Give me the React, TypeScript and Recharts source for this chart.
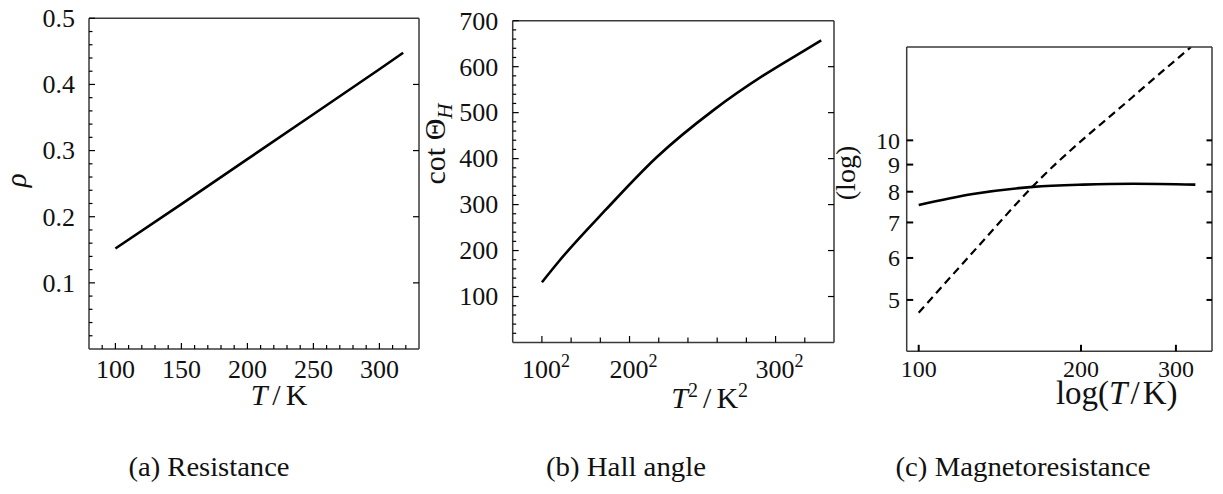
import React from 'react';
import { LineChart, Line, XAxis, YAxis } from 'recharts';

const SERIF = '"Liberation Serif", "Times New Roman", Times, serif';
const INK = '#000';
const FRAME = '#3a3a3a';

// ---- (a) Resistance: rho against T ----
const resTemps = [100, 150, 200, 250, 300, 318];
const resRho = [0.152, 0.219, 0.287, 0.355, 0.423, 0.448];
const resXLabels = [100, 150, 200, 250, 300];
const resYLabels = [0.1, 0.2, 0.3, 0.4, 0.5];

// ---- (b) Hall angle: cot(theta_H) against T^2 ----
const hallTemps = [100, 127, 179, 222, 262, 293, 313, 325];
const hallCot = [131, 179, 290, 403, 505, 581, 628, 657];
const hallXLabelTemps = [100, 200, 300];
const hallYLabels = [100, 200, 300, 400, 500, 600, 700];

// ---- (c) Magnetoresistance, log-log ----
const mrTemps = [100, 126, 163, 202, 250, 326];
const mrSolid = [7.55, 7.92, 8.17, 8.25, 8.28, 8.25];
const mrDashedTemps = [100, 130, 163, 250, 320];
const mrDashed = [4.73, 6.37, 8.2, 12.1, 15.0];
const mrXLabels = [100, 200, 300];
const mrYLabels = [5, 6, 7, 8, 9, 10];

const captions = ['(a) Resistance', '(b) Hall angle', '(c) Magnetoresistance'];

const range = (a: number, b: number, step: number) => {
  const out: number[] = [];
  for (let v = a; v <= b + step * 1e-6; v += step) out.push(+v.toFixed(6));
  return out;
};

const resData = resTemps.map((t, i) => ({ t, rho: resRho[i] }));
const hallData = hallTemps.map((t, i) => ({ t2: t * t, cot: hallCot[i] }));
const mrSolidData = mrTemps.map((t, i) => ({ t, v: mrSolid[i] }));
const mrDashedData = mrDashedTemps.map((t, i) => ({ t, v: mrDashed[i] }));

type Side = 'bottom' | 'top' | 'left' | 'right';
type TickSpec = {
  side: Side;
  labeled?: number[];
  majors?: number[];
  majorLen: number;
  minorLen: number;
  width: number;
  fontSize?: number;
  offset?: number;
  format?: (v: number) => React.ReactNode;
  anchorShift?: number;
};

const near = (list: number[] | undefined, v: number) =>
  !!list && list.some((m) => Math.abs(m - v) < 1e-6 * Math.max(1, Math.abs(m)));

// Inward-pointing tick marks drawn from the axis edge, with optional labels.
function axisTick(spec: TickSpec) {
  return (props: any) => {
    const { x, y, payload } = props;
    const v = Number(payload.value);
    const len = near(spec.majors, v) ? spec.majorLen : spec.minorLen;
    const dir: Record<Side, [number, number]> = {
      bottom: [0, -1],
      top: [0, 1],
      left: [1, 0],
      right: [-1, 0],
    };
    const [dx, dy] = dir[spec.side];
    let label: React.ReactNode = null;
    if (spec.fontSize && near(spec.labeled, v)) {
      const content = spec.format ? spec.format(v) : String(v);
      if (spec.side === 'bottom') {
        label = (
          <text
            x={x + (spec.anchorShift ?? 0)}
            y={y + (spec.offset ?? 0)}
            textAnchor={spec.anchorShift ? 'start' : 'middle'}
            fontFamily={SERIF}
            fontSize={spec.fontSize}
            fill="#111"
          >
            {content}
          </text>
        );
      } else if (spec.side === 'left') {
        label = (
          <text
            x={x - (spec.offset ?? 0)}
            y={y + spec.fontSize * 0.34}
            textAnchor="end"
            fontFamily={SERIF}
            fontSize={spec.fontSize}
            fill="#111"
          >
            {content}
          </text>
        );
      }
    }
    return (
      <g>
        <line x1={x} y1={y} x2={x + dx * len} y2={y + dy * len} stroke={INK} strokeWidth={spec.width} />
        {label}
      </g>
    );
  };
}

const axisBase = {
  type: 'number' as const,
  tickLine: false,
  tickSize: 0,
  tickMargin: 0,
  interval: 0 as const,
  allowDataOverflow: true,
};

const frameLine = { stroke: FRAME, strokeWidth: 1.5 };

const sq = (n: number) => (
  <>
    {n}
    <tspan dy={-11} fontSize={18}>2</tspan>
  </>
);

function ResistancePanel() {
  return (
    <div style={{ position: 'absolute', left: 0, top: 0 }}>
      <LineChart width={440} height={494} data={resData} margin={{ top: 17.3, right: 20, bottom: 105, left: 29 }}>
        <XAxis
          {...axisBase}
          dataKey="t"
          domain={[80, 330]}
          ticks={range(90, 320, 10)}
          height={40}
          axisLine={frameLine}
          tick={axisTick({ side: 'bottom', labeled: resXLabels, majors: resXLabels, majorLen: 6, minorLen: 4, width: 1.2, fontSize: 26, offset: 29 })}
          label={(p: any) => (
            <text x={p.viewBox.x + 190} y={p.viewBox.y + 56} textAnchor="middle" fontFamily={SERIF} fontSize={30} fill="#111">
              <tspan fontStyle="italic">T</tspan>
              <tspan dx={5}>/</tspan>
              <tspan dx={5}>K</tspan>
            </text>
          )}
        />
        <XAxis
          {...axisBase}
          xAxisId="top"
          orientation="top"
          domain={[80, 330]}
          ticks={resXLabels}
          height={1}
          axisLine={frameLine}
          tick={axisTick({ side: 'top', majors: resXLabels, majorLen: 5, minorLen: 3, width: 1.2 })}
        />
        <YAxis
          {...axisBase}
          domain={[0, 0.5]}
          ticks={range(0.02, 0.5, 0.02)}
          width={60}
          axisLine={frameLine}
          tick={axisTick({ side: 'left', labeled: resYLabels, majors: resYLabels, majorLen: 6, minorLen: 3.5, width: 1.2, fontSize: 26, offset: 14 })}
          label={(p: any) => (
            <text
              transform={`translate(${p.viewBox.x - 3}, ${p.viewBox.y + 162}) rotate(-90)`}
              textAnchor="middle"
              fontFamily={SERIF}
              fontStyle="italic"
              fontSize={29}
              fill="#111"
            >
              ρ
            </text>
          )}
        />
        <YAxis
          {...axisBase}
          yAxisId="right"
          orientation="right"
          domain={[0, 0.5]}
          ticks={[0.1, 0.2, 0.3, 0.4]}
          width={1}
          axisLine={frameLine}
          tick={axisTick({ side: 'right', majors: resYLabels, majorLen: 6, minorLen: 3, width: 1.2 })}
        />
        <Line dataKey="rho" type="linear" stroke={INK} strokeWidth={2.6} dot={false} isAnimationActive={false} />
      </LineChart>
    </div>
  );
}

function HallPanel() {
  const xMajors = hallXLabelTemps.map((t) => t * t);
  return (
    <div style={{ position: 'absolute', left: 400, top: 0 }}>
      <LineChart width={460} height={494} data={hallData} margin={{ top: 19.7, right: 25, bottom: 111.5, left: 52.7 }}>
        <XAxis
          {...axisBase}
          dataKey="t2"
          domain={[0, 110000]}
          ticks={range(10000, 100000, 10000)}
          height={40}
          axisLine={frameLine}
          tick={axisTick({
            side: 'bottom',
            labeled: xMajors,
            majors: xMajors,
            majorLen: 6.5,
            minorLen: 5,
            width: 1.2,
            fontSize: 26,
            offset: 35.5,
            anchorShift: -20,
            format: (v) => sq(Math.round(Math.sqrt(v))),
          })}
          label={(p: any) => (
            <text x={p.viewBox.x + 197} y={p.viewBox.y + 65} textAnchor="middle" fontFamily={SERIF} fontSize={30} fill="#111">
              <tspan fontStyle="italic">T</tspan>
              <tspan dy={-11} fontSize={20}>2</tspan>
              <tspan dy={11} dx={5}>/</tspan>
              <tspan dx={5}>K</tspan>
              <tspan dy={-11} fontSize={20}>2</tspan>
            </text>
          )}
        />
        <XAxis
          {...axisBase}
          xAxisId="top"
          orientation="top"
          domain={[0, 110000]}
          ticks={range(10000, 100000, 10000)}
          height={1}
          axisLine={frameLine}
          tick={axisTick({ side: 'top', majors: xMajors, majorLen: 5, minorLen: 4, width: 1.2 })}
        />
        <YAxis
          {...axisBase}
          domain={[0, 700]}
          ticks={range(20, 700, 20)}
          width={60}
          axisLine={frameLine}
          tick={axisTick({ side: 'left', labeled: hallYLabels, majors: hallYLabels, majorLen: 6, minorLen: 3.5, width: 1.2, fontSize: 26, offset: 14.4 })}
          label={(p: any) => (
            <text
              transform={`translate(${p.viewBox.x - 7.7}, ${p.viewBox.y + 123.3}) rotate(-90)`}
              textAnchor="middle"
              fontFamily={SERIF}
              fontSize={30}
              fill="#111"
            >
              cot Θ
              <tspan dy={7} fontSize={21} fontStyle="italic">H</tspan>
            </text>
          )}
        />
        <YAxis
          {...axisBase}
          yAxisId="right"
          orientation="right"
          domain={[0, 700]}
          ticks={[100, 200, 300, 400, 500, 600]}
          width={1}
          axisLine={frameLine}
          tick={axisTick({ side: 'right', majors: hallYLabels, majorLen: 6, minorLen: 3, width: 1.2 })}
        />
        <Line dataKey="cot" type="monotone" stroke={INK} strokeWidth={2.6} dot={false} isAnimationActive={false} />
      </LineChart>
    </div>
  );
}

function MagnetoPanel() {
  return (
    <div style={{ position: 'absolute', left: 820, top: 0 }}>
      <LineChart width={403} height={494} margin={{ top: 46, right: 10, bottom: 102.7, left: 46.7 }}>
        <XAxis
          {...axisBase}
          dataKey="t"
          scale="log"
          domain={[95, 350]}
          ticks={mrXLabels}
          height={40}
          axisLine={frameLine}
          tick={axisTick({ side: 'bottom', labeled: mrXLabels, majors: mrXLabels, majorLen: 6.5, minorLen: 6.5, width: 2, fontSize: 24, offset: 26 })}
          label={(p: any) => (
            <text x={p.viewBox.x + 210} y={p.viewBox.y + 53} textAnchor="middle" fontFamily={SERIF} fontSize={33} fill="#111">
              log(
              <tspan fontStyle="italic">T</tspan>
              <tspan dx={3}>/</tspan>
              <tspan dx={3}>K)</tspan>
            </text>
          )}
        />
        <XAxis
          {...axisBase}
          xAxisId="top"
          orientation="top"
          scale="log"
          domain={[95, 350]}
          ticks={mrXLabels}
          height={1}
          axisLine={frameLine}
          tick={axisTick({ side: 'top', majors: mrXLabels, majorLen: 6, minorLen: 6, width: 2 })}
        />
        <YAxis
          {...axisBase}
          scale="log"
          domain={[4, 15]}
          ticks={mrYLabels}
          width={40}
          axisLine={frameLine}
          tick={axisTick({ side: 'left', labeled: mrYLabels, majors: mrYLabels, majorLen: 6.5, minorLen: 6.5, width: 2, fontSize: 24, offset: 6.7 })}
          label={(p: any) => (
            <text
              transform={`translate(${p.viewBox.x - 11.7}, ${p.viewBox.y + 126}) rotate(-90)`}
              textAnchor="middle"
              fontFamily={SERIF}
              fontSize={28}
              fill="#111"
            >
              (log)
            </text>
          )}
        />
        <YAxis
          {...axisBase}
          yAxisId="right"
          orientation="right"
          scale="log"
          domain={[4, 15]}
          ticks={mrYLabels}
          width={1}
          axisLine={frameLine}
          tick={axisTick({ side: 'right', majors: mrYLabels, majorLen: 5.5, minorLen: 5.5, width: 2 })}
        />
        <Line data={mrSolidData} dataKey="v" type="monotone" stroke={INK} strokeWidth={2.6} dot={false} isAnimationActive={false} />
        <Line
          data={mrDashedData}
          dataKey="v"
          type="monotone"
          stroke={INK}
          strokeWidth={2.2}
          strokeDasharray="8 5"
          dot={false}
          isAnimationActive={false}
        />
      </LineChart>
    </div>
  );
}

const captionX = [209, 626, 1023];
const captionW = [161, 160, 255];

export default function App() {
  return (
    <div style={{ position: 'absolute', left: 0, top: 0, width: 1223, height: 494, background: '#fff' }}>
      <ResistancePanel />
      <HallPanel />
      <MagnetoPanel />
      <svg width={1223} height={494} style={{ position: 'absolute', left: 0, top: 0, pointerEvents: 'none' }}>
        {captions.map((c, i) => (
          <text
            key={c}
            x={captionX[i] - captionW[i] / 2}
            y={476}
            fontFamily={SERIF}
            fontSize={28}
            textLength={captionW[i]}
            lengthAdjust="spacingAndGlyphs"
            fill="#111"
          >
            {c}
          </text>
        ))}
      </svg>
    </div>
  );
}
